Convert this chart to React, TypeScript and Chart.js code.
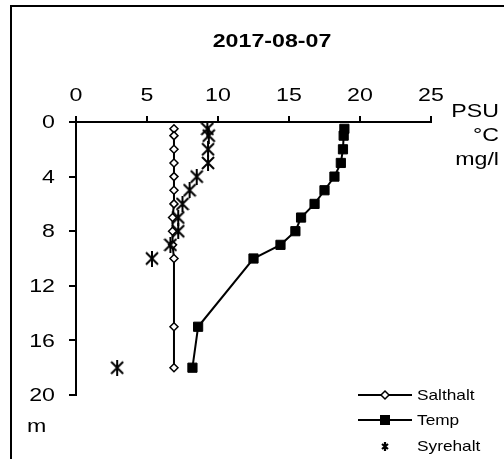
import React, { useEffect, useRef } from 'react';
import { Chart, registerables } from 'chart.js';
Chart.register(...registerables);

// Depth (m) of each sample
const depths = [0.5, 1, 2, 3, 4, 5, 6, 7, 8, 9, 10, 15, 18];
// Salinity (PSU)
const salthalt = [6.9, 6.9, 6.9, 6.9, 6.9, 6.9, 6.9, 6.8, 6.8, 6.8, 6.9, 6.9, 6.9];
// Temperature (°C)
const temp = [18.9, 18.85, 18.8, 18.65, 18.2, 17.5, 16.8, 15.85, 15.45, 14.4, 12.5, 8.6, 8.2];
// Oxygen (mg/l)
const syrehalt: (number | null)[] = [9.25, 9.35, 9.3, 9.3, 8.5, 8.0, 7.5, 7.2, 7.2, 6.65, 5.35, null, 2.9];

const title = '2017-08-07';
const unitLabels = ['PSU', '°C', 'mg/l'];
const depthUnit = 'm';
const seriesNames = ['Salthalt', 'Temp', 'Syrehalt'];
const xTicks = { min: 0, max: 25, step: 5 };
const yTicks = { min: 0, max: 20, step: 4 };

const FONT = '"Liberation Sans", Arial, sans-serif';
const SX = 1.2;

function makeStar(w: number, h: number, lw: number) {
  const c = document.createElement('canvas');
  c.width = w;
  c.height = h;
  const ctx = c.getContext('2d')!;
  ctx.strokeStyle = '#000';
  ctx.lineWidth = lw;
  ctx.lineCap = 'butt';
  ctx.beginPath();
  ctx.moveTo(1, 2);
  ctx.lineTo(w - 1, h - 2);
  ctx.moveTo(w - 1, 2);
  ctx.lineTo(1, h - 2);
  ctx.moveTo(w / 2, 0);
  ctx.lineTo(w / 2, h);
  ctx.stroke();
  return c;
}

function sText(ctx: CanvasRenderingContext2D, text: string, x: number, y: number, align: CanvasTextAlign, sx = SX) {
  ctx.save();
  ctx.translate(x, y);
  ctx.scale(sx, 1);
  ctx.textAlign = align;
  ctx.textBaseline = 'middle';
  ctx.fillText(text, 0, 0);
  ctx.restore();
}

export default function App() {
  const ref = useRef<HTMLCanvasElement>(null);

  useEffect(() => {
    const star = makeStar(14, 16, 2);
    const legendStar = makeStar(8, 9, 2.2);

    const overlay = {
      id: 'overlay',
      afterDraw(chart: any) {
        const ctx: CanvasRenderingContext2D = chart.ctx;
        const xs = chart.scales.x;
        const ys = chart.scales.y;
        ctx.save();
        ctx.fillStyle = '#000';
        // frame
        ctx.fillRect(10, 5, 600, 2);
        ctx.fillRect(10, 5, 2, 600);
        // title
        ctx.font = `bold 19px ${FONT}`;
        sText(ctx, title, 272, 42, 'center', 1.22);
        // tick labels
        ctx.font = `19px ${FONT}`;
        xs.ticks.forEach((t: any) => {
          sText(ctx, String(t.value), xs.getPixelForValue(t.value), 96, 'center', 1.22);
        });
        ys.ticks.forEach((t: any) => {
          sText(ctx, String(t.value), 55, ys.getPixelForValue(t.value) + 1, 'right', 1.22);
        });
        // units
        sText(ctx, unitLabels[0], 499, 112, 'right', 1.22);
        sText(ctx, unitLabels[1], 499, 136, 'right', 1.22);
        sText(ctx, unitLabels[2], 499, 160, 'right', 1.22);
        sText(ctx, depthUnit, 27, 427, 'left', 1.22);
        // legend
        ctx.lineWidth = 2;
        ctx.strokeStyle = '#000';
        const ly = [395, 420, 446];
        for (let i = 0; i < 2; i++) {
          ctx.beginPath();
          ctx.moveTo(358, ly[i]);
          ctx.lineTo(412, ly[i]);
          ctx.stroke();
        }
        // diamond
        ctx.beginPath();
        ctx.moveTo(385, ly[0] - 4);
        ctx.lineTo(389, ly[0]);
        ctx.lineTo(385, ly[0] + 4);
        ctx.lineTo(381, ly[0]);
        ctx.closePath();
        ctx.fillStyle = '#fff';
        ctx.fill();
        ctx.lineWidth = 1.5;
        ctx.stroke();
        ctx.fillStyle = '#000';
        ctx.fillRect(380, ly[1] - 5, 10, 10);
        ctx.drawImage(legendStar, 381, ly[2] - 4);
        ctx.font = `15px ${FONT}`;
        seriesNames.forEach((n, i) => sText(ctx, n, 417, ly[i] + 1, 'left', 1.15));
        ctx.restore();
      },
    };

    const axisCommon = {
      type: 'linear' as const,
      grid: { drawOnChartArea: false, drawTicks: true, color: '#000', lineWidth: 2 },
      border: { display: true, color: '#000', width: 2 },
    };

    const chart = new Chart(ref.current!, {
      type: 'scatter',
      data: {
        datasets: [
          {
            label: seriesNames[0],
            data: depths.map((d, i) => ({ x: salthalt[i], y: d })),
            showLine: true,
            borderColor: '#000',
            borderWidth: 2,
            pointStyle: 'rectRot',
            pointRadius: 4,
            pointBackgroundColor: '#fff',
            pointBorderColor: '#000',
            pointBorderWidth: 1.5,
            order: 2,
          },
          {
            label: seriesNames[1],
            data: depths.map((d, i) => ({ x: temp[i], y: d })),
            showLine: true,
            borderColor: '#000',
            borderWidth: 2,
            pointStyle: 'rect',
            pointRadius: 6.5,
            pointBackgroundColor: '#000',
            pointBorderColor: '#000',
            pointBorderWidth: 1,
            order: 1,
          },
          {
            label: seriesNames[2],
            data: depths
              .map((d, i) => ({ x: syrehalt[i], y: d }))
              .filter((p) => p.x !== null) as any,
            showLine: false,
            pointStyle: star as any,
            pointRadius: 7,
            order: 0,
          },
        ],
      },
      options: {
        responsive: false,
        maintainAspectRatio: false,
        animation: false,
        devicePixelRatio: 1,
        layout: { padding: { left: 0, top: 0, right: 73, bottom: 64 } },
        plugins: { legend: { display: false }, tooltip: { enabled: false }, title: { display: false } },
        scales: {
          x: {
            ...axisCommon,
            position: 'top',
            min: xTicks.min,
            max: xTicks.max,
            ticks: { stepSize: xTicks.step, display: false },
            grid: { ...axisCommon.grid, tickLength: 6 },
            afterFit: (s: any) => {
              s.height = 122;
            },
          },
          y: {
            ...axisCommon,
            reverse: true,
            min: yTicks.min,
            max: yTicks.max,
            ticks: { stepSize: yTicks.step, display: false },
            grid: { ...axisCommon.grid, tickLength: 7 },
            afterFit: (s: any) => {
              s.width = 76;
            },
          },
        },
      },
      plugins: [overlay],
    });
    return () => chart.destroy();
  }, []);

  return (
    <div style={{ position: 'absolute', left: 0, top: 0, width: 504, height: 459, background: '#fff' }}>
      <canvas ref={ref} width={504} height={459} style={{ width: 504, height: 459, display: 'block' }} />
    </div>
  );
}
